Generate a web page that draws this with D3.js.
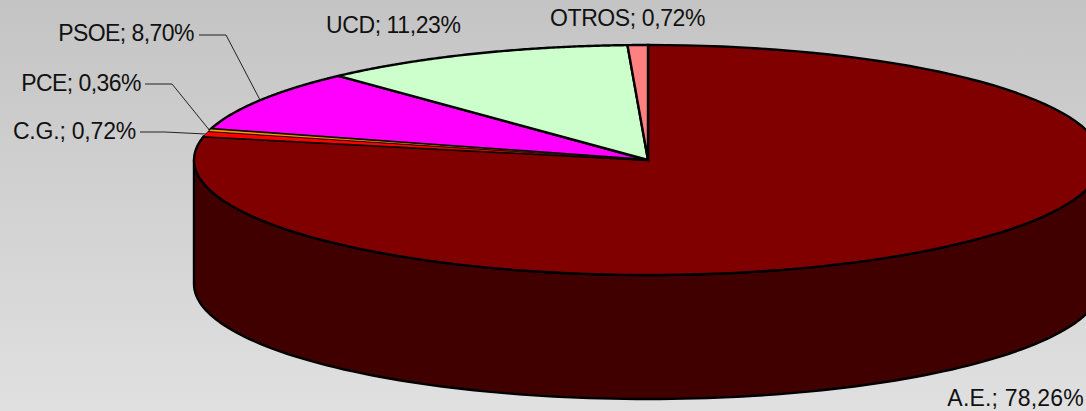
<!DOCTYPE html>
<html><head><meta charset="utf-8">
<script src="https://cdnjs.cloudflare.com/ajax/libs/d3/7.8.5/d3.min.js"></script>
<style>html,body{margin:0;padding:0;overflow:hidden;background:#ccc}svg{display:block}text{font-family:"Liberation Sans",Arial,sans-serif;font-size:23px;fill:#111}</style>
</head><body><svg id="c" width="1086" height="411"></svg>
<script>
const categories = ["A.E.", "C.G.", "PCE", "PSOE", "UCD", "OTROS"];
const shares = [78.26, 0.72, 0.36, 8.70, 11.23, 0.72];
const topColors = ["#800000", "#ff0000", "#ff9900", "#ff00ff", "#ccffcc", "#ff8080"];
const sideColors = ["#400000", "#800000", "#804c00", "#800080", "#668066", "#804040"];
const thinEdged = ["C.G.", "PCE"];

const W = 1086, H = 411;
const cx = 648, cy = 160, rx = 454, ry = 115, depth = 124;
const svg = d3.select("#c");
const defs = svg.append("defs");
const g = defs.append("linearGradient").attr("id", "bg").attr("x1", 0).attr("x2", 0).attr("y1", 0).attr("y2", 1);
g.append("stop").attr("offset", 0).attr("stop-color", "#c4c4c4");
g.append("stop").attr("offset", 1).attr("stop-color", "#e0e0e0");
svg.append("rect").attr("width", W).attr("height", H).attr("fill", "url(#bg)");

const arcs = d3.pie().sort(null).value(d => d)(shares);
const X = t => cx + rx * Math.sin(t);
const Y = t => cy - ry * Math.cos(t);
const line = d3.line();
const sample = (a, b, dz = 0) => d3.range(0, 121).map(i => {
  const t = a + (b - a) * i / 120;
  return [X(t), Y(t) + dz];
});

// side wall: visible front half of the pie, from the right extreme round to the left
arcs.forEach((a, i) => {
  const s = Math.max(a.startAngle, Math.PI / 2), e = Math.min(a.endAngle, Math.PI * 1.5);
  if (e <= s) return;
  const pts = sample(s, e).concat(sample(s, e, depth).reverse());
  svg.append("path").attr("d", line(pts) + "Z").attr("fill", sideColors[i])
    .attr("stroke", "#000").attr("stroke-width", 2.4).attr("stroke-linejoin", "round");
});

// top faces: heavy-edged slices first, the two sliver slices over them
const order = d3.range(arcs.length).sort((p, q) =>
  d3.ascending(thinEdged.includes(categories[p]), thinEdged.includes(categories[q])));
order.forEach(i => {
  const a = arcs[i], thin = thinEdged.includes(categories[i]);
  const pts = [[cx, cy]].concat(sample(a.startAngle, a.endAngle));
  svg.append("path").attr("d", line(pts) + "Z").attr("fill", topColors[i])
    .attr("stroke", "#000").attr("stroke-width", thin ? 0.8 : 2.4).attr("stroke-linejoin", "miter");
});

// labels
const fmt = v => v.toFixed(2).replace(".", ",") + "%";
const labelLayout = [
  {x: 1084, y: 406, anchor: "end", spacing: 0.2},
  {x: 136, y: 139, anchor: "end", spacing: -0.2, knee: [165, 132], from: [140, 132]},
  {x: 141, y: 91, anchor: "end", spacing: -0.55, knee: [172, 84], from: [145, 84]},
  {x: 194, y: 41, anchor: "end", spacing: -0.55, knee: [226, 35], from: [199, 35]},
  {x: 326, y: 33, anchor: "start", spacing: -0.4},
  {x: 550, y: 26, anchor: "start", spacing: -0.4}
];
arcs.forEach((a, i) => {
  const L = labelLayout[i];
  if (L.knee) {
    const mid = (a.startAngle + a.endAngle) / 2;
    svg.append("path").attr("fill", "none").attr("stroke", "#222").attr("stroke-width", 1)
      .attr("d", line([L.from, L.knee, [X(mid), Y(mid)]]));
  }
  svg.append("text").attr("x", L.x).attr("y", L.y).attr("text-anchor", L.anchor)
    .attr("letter-spacing", L.spacing)
    .text(categories[i] + "; " + fmt(shares[i]));
});
</script></body></html>
